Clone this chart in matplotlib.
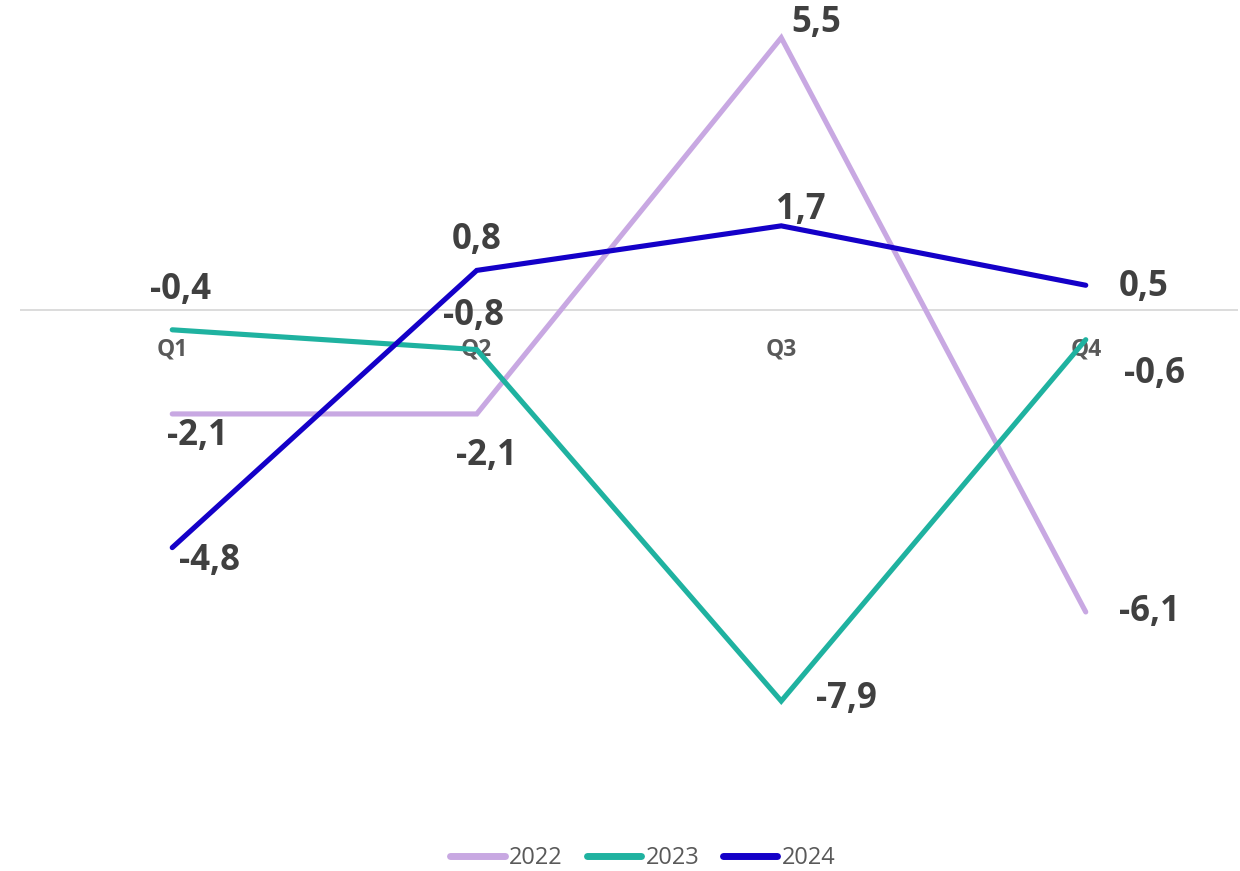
import matplotlib
matplotlib.use("Agg")
import matplotlib.pyplot as plt

quarters = ["Q1", "Q2", "Q3", "Q4"]
series_names = ["2022", "2023", "2024"]
v2022 = [-2.1, -2.1, 5.5, -6.1]
v2023 = [-0.4, -0.8, -7.9, -0.6]
v2024 = [-4.8, 0.8, 1.7, 0.5]

colors = ["#C8A8E2", "#1FB2A0", "#1400C8"]
# label offsets in pixels (dx, dy with dy positive downward)
offsets = [
    [(25, 22), (10, 42), (35, -15), (64, 0)],
    [(8, -40), (-3, -34), (65, -2), (69, 34)],
    [(37, 13), (0, -30), (20, -16), (58, 2)],
]

W, H, DPI = 1240, 871, 100
fig = plt.figure(figsize=(W / DPI, H / DPI), dpi=DPI)
ax = fig.add_axes([20 / W, 1 - 805 / H, (1238 - 20) / W, (805 - 13) / H])
ax.set_xlim(-0.5, 3.5)
ax.set_ylim(-10, 6)
for s in ax.spines.values():
    s.set_visible(False)
ax.spines["bottom"].set_position(("data", 0))

font = "Open Sans"
x = list(range(len(quarters)))
for name, vals, col, offs in zip(series_names, [v2022, v2023, v2024], colors, offsets):
    ax.plot(x, vals, color=col, lw=3.7, solid_capstyle="round", solid_joinstyle="miter", label=name, zorder=2)
    for xi, v, (dx, dy) in zip(x, vals, offs):
        ax.annotate(f"{v:.1f}".replace(".", ","), (xi, v), xytext=(dx * 72 / DPI, -dy * 72 / DPI),
                    textcoords="offset points", ha="center", va="center",
                    fontsize=25, fontweight="bold", color="#404040", family=font, zorder=5)

ax.axhline(0, color="#D9D9D9", lw=1.3, zorder=1)
ax.set_yticks([])
ax.set_xticks(x)
ax.set_xticklabels(quarters, fontsize=16.5, fontweight="bold", color="#595959", family=font)
ax.tick_params(axis="x", length=0, pad=20)

leg = ax.legend(loc="center", bbox_to_anchor=(643 / W, 1 - 858 / H), bbox_transform=fig.transFigure,
                ncol=3, frameon=False, handlelength=2.3, columnspacing=1.0, handletextpad=0.2,
                prop={"family": font, "size": 17})
for t in leg.get_texts():
    t.set_color("#595959")
for l in leg.get_lines():
    l.set_linewidth(5)

fig.savefig("out.png", dpi=DPI)
